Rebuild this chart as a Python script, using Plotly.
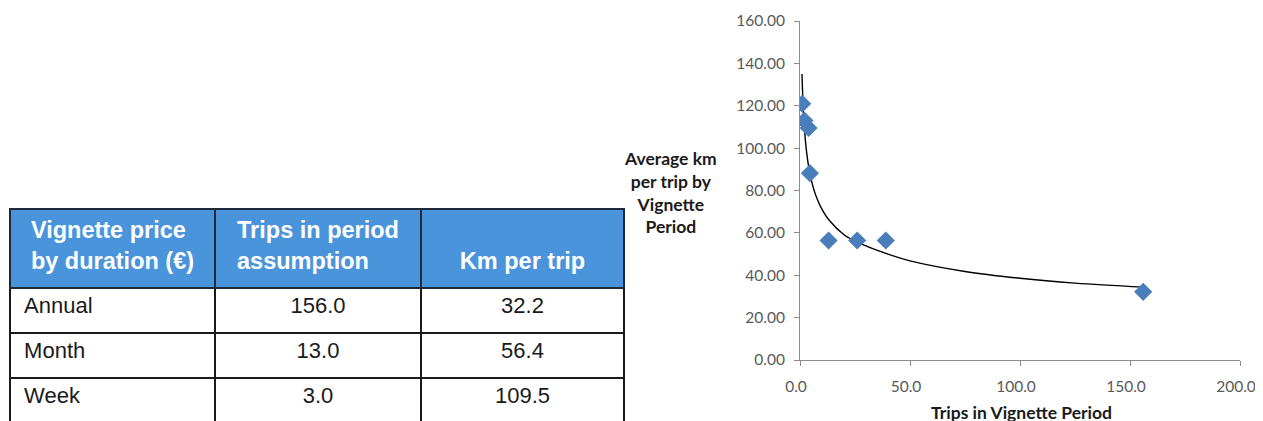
import plotly.graph_objects as go

# ---- table data ----
tbl_header = ["Vignette price<br>by duration (€)", "Trips in period<br>assumption", "\u00a0<br>Km per trip"]
tbl_period = ["Annual", "Month", "Week"]
tbl_trips = ["156.0", "13.0", "3.0"]
tbl_km = ["32.2", "56.4", "109.5"]

# ---- scatter data ----
trips = [1, 2, 3.9, 4.5, 13, 26, 39, 156]
km_per_trip = [121, 113, 109.5, 88.2, 56.4, 56.4, 56.4, 32.2]

# ---- trendline readings (power trendline) ----
trend_x = [0.9, 1.5, 2, 3, 4, 6, 8, 10, 13, 20, 26, 39, 50, 75, 100, 125, 156]
trend_y = [135, 118, 109.3, 98.1, 90.9, 81.5, 75.5, 71.1, 66.3, 59.1, 55.6, 50.3, 46.8, 41.8, 38.6, 36.3, 34.4]

x_ticks = [0, 50, 100, 150, 200]
y_ticks = [0, 20, 40, 60, 80, 100, 120, 140, 160]

W, H = 1263, 421
OFF = 8  # page body margin


def px_x(p):
    return (p - OFF) / W


def px_y(p):
    return 1 - (p - OFF) / H


fig = go.Figure()

fig.add_trace(go.Table(
    domain=dict(x=[px_x(10), px_x(624)], y=[0, px_y(209)]),
    columnwidth=[205, 206, 203],
    header=dict(
        values=[f"<b>{h}</b>" for h in tbl_header],
        fill_color="#4a94dc",
        line=dict(color="#1e2a3a", width=1.5),
        align="center",
        font=dict(family="Liberation Sans, Arial", size=23.5, color="white"),
        height=79,
    ),
    cells=dict(
        values=[["\u00a0" + p for p in tbl_period], tbl_trips, tbl_km],
        fill_color="white",
        line=dict(color="#1a1a1a", width=1.5),
        align=["left", "center", "center"],
        font=dict(family="Liberation Sans, Arial", size=22, color="#1a1a1a"),
        height=45,
    ),
))

fig.add_trace(go.Scatter(
    x=trend_x, y=trend_y, mode="lines",
    line=dict(color="black", width=1.4, shape="spline"),
    showlegend=False, hoverinfo="skip",
))

fig.add_trace(go.Scatter(
    x=trips, y=km_per_trip, mode="markers",
    marker=dict(symbol="diamond", size=14, color="#4a7ebb"),
    showlegend=False,
))

axis_common = dict(
    showgrid=False, zeroline=False, showline=True, automargin=False,
    linecolor="#8c8c8c", linewidth=1,
    ticks="outside", ticklen=5, tickcolor="#8c8c8c",
    tickfont=dict(family="Lato, Open Sans", size=15.5, color="#595959"),
)

fig.update_xaxes(
    domain=[px_x(800), px_x(1240)], range=[0, 200],
    tickvals=x_ticks, tickformat=".1f", ticklabelstandoff=7, ticklabelshift=-4,
    **axis_common,
)
fig.update_yaxes(
    domain=[px_y(360), px_y(21)], range=[0, 160],
    tickvals=y_ticks, tickformat=".2f", ticklabelstandoff=6,
    **axis_common,
)

fig.add_annotation(
    text="<b>Trips in Vignette Period</b>", xref="paper", yref="paper",
    x=px_x(1021), y=px_y(412), xanchor="center", yanchor="middle", showarrow=False,
    font=dict(family="Lato, Open Sans", size=17.5, color="#1a1a1a"),
)
fig.add_annotation(
    text="<b>Average km<br>per trip by<br>Vignette<br>Period</b>", xref="paper", yref="paper",
    x=px_x(670), y=px_y(192), xanchor="center", yanchor="middle", showarrow=False, align="center",
    font=dict(family="Lato, Open Sans", size=17.5, color="#1a1a1a"),
)

fig.update_layout(
    width=W, height=H, autosize=False,
    margin=dict(l=0, r=0, t=0, b=0, pad=0, autoexpand=False),
    paper_bgcolor="white", plot_bgcolor="white",
    showlegend=False,
)

fig.write_html("out.html")
